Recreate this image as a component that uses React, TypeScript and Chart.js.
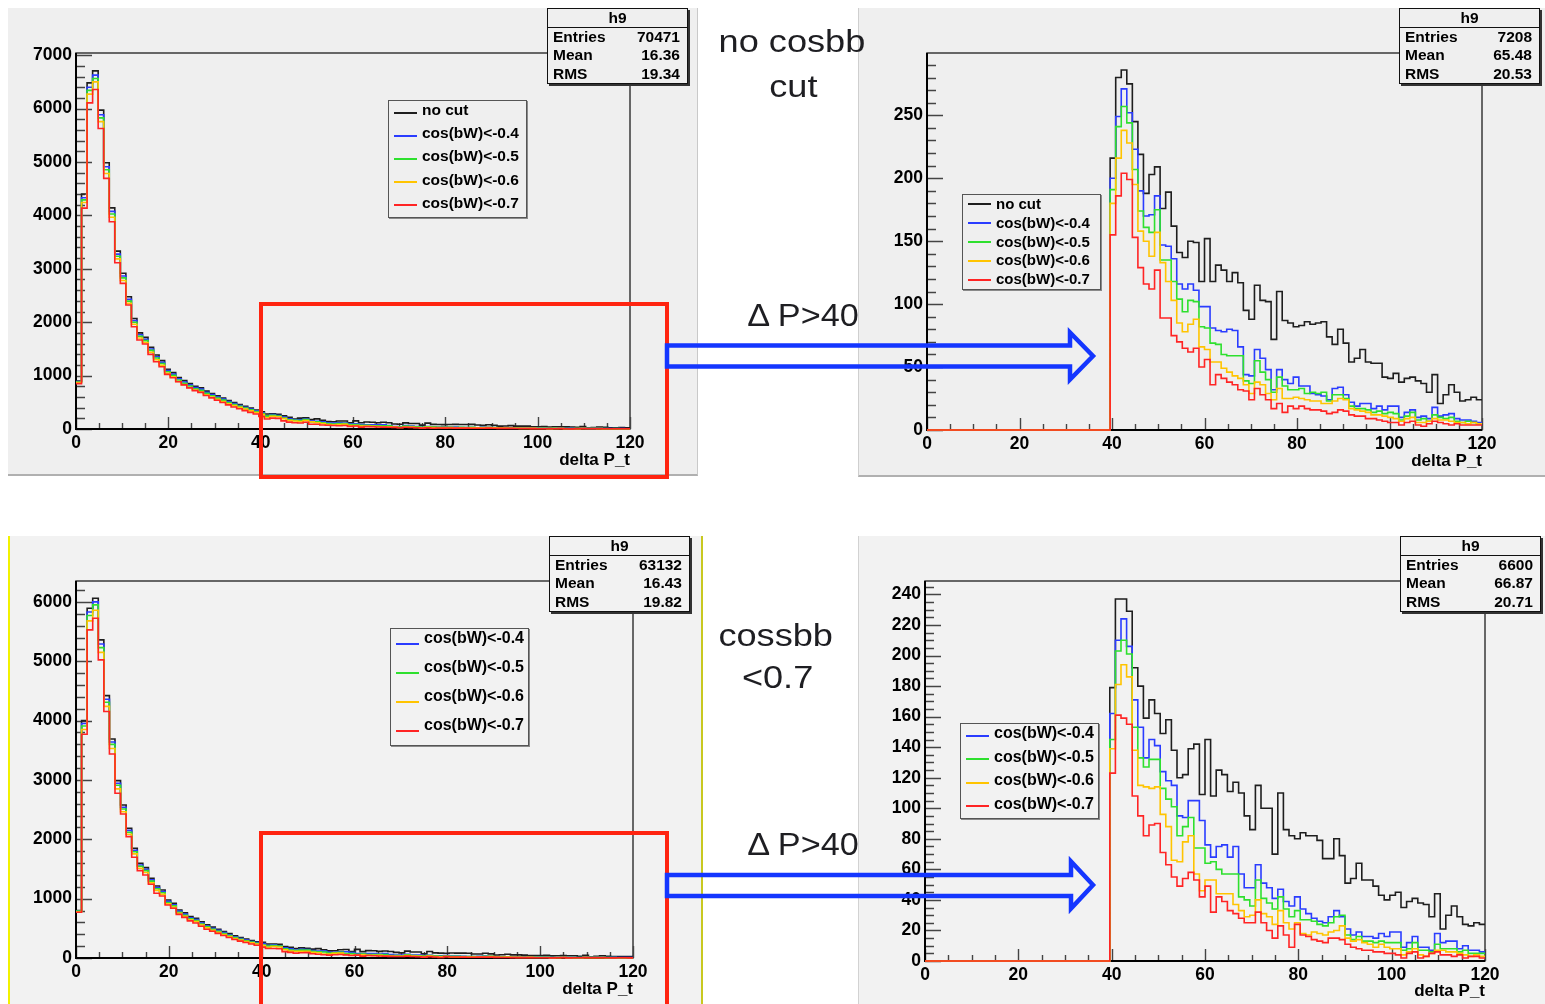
import React, { useEffect, useRef } from 'react';
import { Chart, registerables } from 'chart.js';

Chart.register(...registerables);

const FONT = '"Liberation Sans", Arial, Helvetica, sans-serif';

// ---- histogram definition (ROOT TH1: 100 bins on [0,120]) ----
const X_MIN = 0;
const X_MAX = 120;
const N_BINS = 100;
const BIN_WIDTH = (X_MAX - X_MIN) / N_BINS;
const CUT_FIRST_BIN = 33; // first bin touched by the ΔP>40 cut: [39.6, 40.8]

const SERIES_NAMES = ['no cut', 'cos(bW)<-0.4', 'cos(bW)<-0.5', 'cos(bW)<-0.6', 'cos(bW)<-0.7'];
const SERIES_COLORS = ['#1e1e1e', '#2a3cff', '#2ee02e', '#ffc400', '#ff2424'];

const X_TICKS = [0, 20, 40, 60, 80, 100, 120];
const Y_TICKS_TOP_FULL = [0, 1000, 2000, 3000, 4000, 5000, 6000, 7000];
const Y_TICKS_TOP_CUT = [0, 50, 100, 150, 200, 250];
const Y_TICKS_BOT_FULL = [0, 1000, 2000, 3000, 4000, 5000, 6000];
const Y_TICKS_BOT_CUT = [0, 20, 40, 60, 80, 100, 120, 140, 160, 180, 200, 220, 240];

const X_TITLE = 'delta P_t';
const STAT_TITLE = 'h9';
const STAT_LABELS = ['Entries', 'Mean', 'RMS'];
const STATS_TOP_FULL = ['70471', '16.36', '19.34'];
const STATS_TOP_CUT = ['7208', '65.48', '20.53'];
const STATS_BOT_FULL = ['63132', '16.43', '19.82'];
const STATS_BOT_CUT = ['6600', '66.87', '20.71'];

// ---- "no cosbb cut": bins 0..33 (full range view) ----
const TOP_HEAD_NOCUT = [900, 4400, 6480, 6706, 5970, 4985, 4140, 3330, 2915, 2475, 2070, 1800, 1715, 1530, 1385, 1280, 1120, 1055, 965, 905, 850, 800, 770, 710, 665, 620, 580, 535, 495, 460, 425, 390, 355, 320];
const TOP_HEAD_BW04 = [890, 4330, 6400, 6625, 5885, 4910, 4075, 3275, 2865, 2430, 2030, 1765, 1680, 1497, 1354, 1250, 1093, 1028, 940, 880, 826, 776, 746, 687, 643, 598, 559, 515, 476, 441, 407, 373, 339, 302];
const TOP_HEAD_BW05 = [880, 4290, 6340, 6563, 5825, 4855, 4025, 3235, 2830, 2395, 2000, 1738, 1654, 1472, 1330, 1226, 1071, 1006, 918, 858, 805, 755, 725, 667, 623, 579, 540, 497, 459, 425, 392, 358, 325, 288];
const TOP_HEAD_BW06 = [870, 4240, 6270, 6500, 5755, 4785, 3965, 3185, 2780, 2352, 1962, 1703, 1618, 1438, 1298, 1194, 1042, 977, 890, 831, 778, 729, 698, 641, 598, 555, 516, 474, 437, 404, 372, 339, 306, 272];
const TOP_HEAD_BW07 = [850, 4136, 6107, 6357, 5627, 4692, 3880, 3113, 2727, 2321, 1915, 1666, 1591, 1398, 1260, 1166, 1023, 960, 886, 826, 770, 718, 686, 628, 582, 538, 495, 452, 412, 378, 344, 312, 280, 235];

// ---- "no cosbb cut", ΔP>40: bins 33..99 ----
const TOP_TAIL_NOCUT = [216, 280, 286, 275, 245, 219, 188, 203, 209, 176, 189, 162, 141, 137, 150, 149, 118, 152, 118, 131, 127, 118, 125, 117, 95, 88, 115, 103, 102, 72, 110, 87, 85, 82, 83, 86, 84, 85, 86, 74, 68, 80, 69, 54, 57, 64, 54, 53, 53, 42, 41, 45, 38, 41, 42, 39, 37, 30, 44, 21, 28, 36, 30, 23, 24, 26, 24];
const TOP_TAIL_BW04 = [200, 249, 271, 252, 223, 190, 170, 171, 186, 147, 146, 136, 116, 112, 116, 111, 98, 98, 81, 79, 78, 80, 79, 66, 44, 43, 64, 57, 48, 32, 48, 40, 37, 42, 35, 35, 29, 28, 27, 24, 33, 34, 28, 22, 19, 21, 21, 17, 19, 16, 19, 19, 10, 14, 16, 10, 11, 9, 18, 11, 12, 13, 9, 8, 8, 7, 6];
const TOP_TAIL_BW05 = [191, 241, 257, 244, 207, 174, 161, 157, 175, 135, 135, 118, 104, 94, 103, 102, 82, 81, 69, 68, 60, 59, 59, 59, 39, 37, 55, 46, 40, 30, 42, 35, 32, 32, 33, 29, 30, 29, 30, 23, 28, 28, 25, 19, 17, 17, 16, 14, 15, 13, 14, 13, 8, 11, 14, 8, 9, 7, 12, 10, 9, 10, 7, 6, 7, 6, 5];
const TOP_TAIL_BW06 = [180, 216, 238, 228, 195, 158, 150, 138, 157, 133, 118, 103, 85, 78, 84, 88, 66, 64, 54, 54, 49, 46, 43, 41, 36, 29, 38, 36, 29, 24, 33, 25, 25, 26, 25, 24, 23, 23, 21, 21, 23, 25, 24, 17, 16, 15, 14, 12, 12, 11, 10, 9, 7, 9, 10, 6, 6, 7, 9, 8, 8, 7, 6, 6, 5, 6, 5];
const TOP_TAIL_BW07 = [155, 186, 204, 199, 153, 129, 116, 112, 127, 89, 89, 75, 70, 65, 62, 65, 50, 56, 36, 44, 41, 38, 36, 32, 31, 24, 33, 28, 24, 17, 21, 14, 19, 17, 19, 17, 16, 16, 15, 13, 14, 16, 15, 12, 11, 11, 9, 9, 8, 7, 6, 6, 4, 6, 7, 4, 3, 5, 7, 6, 5, 4, 5, 4, 4, 4, 4];

// ---- "cossbb<0.7": bins 0..33 ----
const BOT_HEAD_NOCUT = [800, 4000, 5893, 6062, 5360, 4421, 3691, 2989, 2579, 2186, 1848, 1596, 1523, 1343, 1214, 1146, 978, 921, 810, 760, 700, 670, 610, 560, 520, 485, 445, 410, 375, 345, 320, 295, 275, 265];
const BOT_HEAD_BW04 = [795, 3950, 5830, 6000, 5290, 4360, 3640, 2945, 2540, 2150, 1815, 1568, 1495, 1316, 1189, 1121, 955, 898, 789, 739, 679, 649, 590, 540, 500, 466, 427, 392, 358, 328, 304, 279, 259, 244];
const BOT_HEAD_BW05 = [790, 3910, 5770, 5950, 5230, 4310, 3600, 2910, 2510, 2120, 1790, 1545, 1472, 1295, 1168, 1100, 936, 879, 771, 721, 661, 631, 573, 524, 484, 450, 411, 377, 343, 314, 291, 267, 247, 218];
const BOT_HEAD_BW06 = [780, 3850, 5680, 5860, 5150, 4240, 3530, 2850, 2465, 2085, 1755, 1513, 1440, 1266, 1140, 1073, 912, 856, 752, 703, 643, 613, 556, 507, 468, 434, 396, 362, 329, 301, 278, 255, 235, 208];
const BOT_HEAD_BW07 = [770, 3770, 5528, 5725, 5023, 4152, 3438, 2776, 2427, 2045, 1697, 1472, 1399, 1242, 1090, 1045, 893, 837, 735, 685, 625, 590, 535, 485, 450, 415, 378, 345, 312, 284, 260, 236, 216, 184];

// ---- "cossbb<0.7", ΔP>40: bins 33..99 ----
const BOT_TAIL_NOCUT = [179, 237, 237, 229, 192, 180, 159, 171, 162, 149, 158, 138, 120, 122, 139, 142, 109, 145, 108, 125, 122, 111, 117, 110, 95, 86, 115, 100, 100, 70, 110, 86, 82, 80, 84, 82, 82, 79, 67, 67, 80, 69, 51, 54, 64, 53, 53, 49, 43, 40, 43, 45, 35, 39, 41, 38, 37, 29, 44, 21, 30, 36, 29, 24, 23, 25, 24];
const BOT_TAIL_BW04 = [162, 210, 224, 206, 171, 153, 133, 145, 141, 124, 118, 115, 95, 94, 105, 105, 92, 76, 68, 75, 76, 68, 75, 57, 48, 48, 63, 51, 48, 41, 47, 39, 36, 42, 34, 31, 28, 26, 25, 29, 33, 29, 21, 17, 19, 16, 16, 15, 18, 16, 19, 19, 9, 12, 16, 9, 9, 7, 18, 12, 13, 13, 8, 10, 7, 7, 6];
const BOT_TAIL_BW05 = [145, 203, 210, 201, 153, 133, 127, 132, 132, 113, 106, 101, 82, 88, 94, 74, 74, 64, 65, 60, 57, 57, 57, 42, 40, 36, 53, 41, 38, 34, 42, 34, 29, 33, 27, 27, 26, 24, 23, 25, 29, 30, 17, 14, 16, 13, 13, 12, 13, 12, 12, 12, 7, 8, 12, 7, 7, 6, 11, 8, 8, 8, 6, 7, 5, 5, 5];
const BOT_TAIL_BW06 = [139, 181, 194, 186, 138, 115, 114, 113, 114, 96, 88, 66, 65, 78, 82, 57, 46, 53, 53, 44, 44, 44, 37, 33, 29, 30, 40, 31, 29, 24, 33, 25, 21, 25, 18, 17, 19, 18, 17, 19, 20, 23, 15, 13, 14, 12, 11, 9, 11, 9, 8, 8, 4, 6, 8, 4, 3, 5, 7, 7, 6, 6, 5, 4, 3, 4, 3];
const BOT_TAIL_BW07 = [123, 161, 159, 155, 108, 95, 82, 89, 90, 71, 63, 55, 49, 54, 58, 53, 42, 49, 32, 42, 39, 33, 31, 28, 25, 25, 32, 25, 20, 15, 23, 17, 9, 24, 17, 16, 14, 13, 12, 15, 15, 14, 11, 9, 8, 7, 7, 6, 6, 5, 5, 4, 2, 5, 6, 2, 3, 5, 6, 4, 4, 3, 4, 2, 3, 3, 2];

const TOP_HEADS = [TOP_HEAD_NOCUT, TOP_HEAD_BW04, TOP_HEAD_BW05, TOP_HEAD_BW06, TOP_HEAD_BW07];
const TOP_TAILS = [TOP_TAIL_NOCUT, TOP_TAIL_BW04, TOP_TAIL_BW05, TOP_TAIL_BW06, TOP_TAIL_BW07];
const BOT_HEADS = [BOT_HEAD_NOCUT, BOT_HEAD_BW04, BOT_HEAD_BW05, BOT_HEAD_BW06, BOT_HEAD_BW07];
const BOT_TAILS = [BOT_TAIL_NOCUT, BOT_TAIL_BW04, BOT_TAIL_BW05, BOT_TAIL_BW06, BOT_TAIL_BW07];

// full-range histogram: bins 0..33 from the head, bins 34..99 from the tail
function fullRange(head: number[], tail: number[]): number[] {
  return head.concat(tail.slice(1));
}
// after the ΔP>40 cut: empty bins below the cut, then the tail
function aboveCut(tail: number[]): number[] {
  const empty: number[] = [];
  for (let i = 0; i < CUT_FIRST_BIN; i++) empty.push(0);
  return empty.concat(tail);
}

type Rect = { x: number; y: number; w: number; h: number };
type PanelDef = {
  id: string;
  box: Rect;
  frame: { l: number; t: number; r: number; b: number };
  bg: string;
  borders: React.CSSProperties;
  yMax: number;
  yTicks: number[];
  yMinor: number;
  titleOffset: number;
  hists: number[][];
  legendIdx: number[];
  legend: Rect & { font: number };
  stats: Rect;
  statValues: string[];
};

const PANELS: PanelDef[] = [
  {
    id: 'tl',
    box: { x: 8, y: 8, w: 690, h: 468 },
    frame: { l: 76, t: 53, r: 630, b: 429 },
    bg: '#efefef',
    borders: { borderRight: '1px solid #c9c9c9', borderBottom: '2px solid #b0b0b0' },
    yMax: 7040, yTicks: Y_TICKS_TOP_FULL, yMinor: 200, titleOffset: 16,
    hists: TOP_HEADS.map((h, k) => fullRange(h, TOP_TAILS[k])),
    legendIdx: [0, 1, 2, 3, 4],
    legend: { x: 388, y: 100, w: 139, h: 118, font: 15.5 },
    stats: { x: 547, y: 8, w: 141, h: 76 },
    statValues: STATS_TOP_FULL,
  },
  {
    id: 'tr',
    box: { x: 858, y: 8, w: 687, h: 469 },
    frame: { l: 927, t: 53, r: 1482, b: 430 },
    bg: '#efefef',
    borders: { borderLeft: '1px solid #cfcfcf', borderBottom: '2px solid #b0b0b0' },
    yMax: 299.5, yTicks: Y_TICKS_TOP_CUT, yMinor: 10, titleOffset: 16,
    hists: TOP_TAILS.map((t) => aboveCut(t)),
    legendIdx: [0, 1, 2, 3, 4],
    legend: { x: 962, y: 194, w: 139, h: 96, font: 15 },
    stats: { x: 1399, y: 8, w: 141, h: 76 },
    statValues: STATS_TOP_CUT,
  },
  {
    id: 'bl',
    box: { x: 8, y: 536, w: 695, h: 468 },
    frame: { l: 76, t: 581, r: 633, b: 958 },
    bg: '#f2f2f2',
    borders: { borderLeft: '2px solid #f2f200', borderRight: '2px solid #c8c820' },
    yMax: 6352, yTicks: Y_TICKS_BOT_FULL, yMinor: 200, titleOffset: 15,
    hists: BOT_HEADS.map((h, k) => fullRange(h, BOT_TAILS[k])),
    legendIdx: [1, 2, 3, 4],
    legend: { x: 390, y: 628, w: 139, h: 118, font: 16 },
    stats: { x: 549, y: 536, w: 141, h: 76 },
    statValues: STATS_BOT_FULL,
  },
  {
    id: 'br',
    box: { x: 858, y: 536, w: 687, h: 468 },
    frame: { l: 925, t: 581, r: 1485, b: 961 },
    bg: '#f2f2f2',
    borders: { borderLeft: '1px solid #d2d2d2' },
    yMax: 248.8, yTicks: Y_TICKS_BOT_CUT, yMinor: 5, titleOffset: 13,
    hists: BOT_TAILS.map((t) => aboveCut(t)),
    legendIdx: [1, 2, 3, 4],
    legend: { x: 960, y: 723, w: 139, h: 96, font: 16 },
    stats: { x: 1400, y: 536, w: 141, h: 76 },
    statValues: STATS_BOT_CUT,
  },
];

// ROOT-like frame with inward ticks, drawn from the chart's own scales
const rootFramePlugin = {
  id: 'rootFrame',
  beforeDatasetsDraw(chart: any, _args: any, opts: any) {
    const { ctx, chartArea: a, scales } = chart;
    const xs = scales.x;
    const ys = scales.y;
    ctx.save();
    ctx.strokeStyle = '#3a3a3a';
    ctx.lineWidth = 1.5;
    ctx.strokeRect(a.left, a.top, a.right - a.left, a.bottom - a.top);

    ctx.strokeStyle = '#444';
    ctx.lineWidth = 1.4;
    ctx.beginPath();
    const majorStep = opts.yMajor;
    const nY = Math.floor(ys.max / opts.yMinor + 1e-9);
    const perMajorY = Math.round(majorStep / opts.yMinor);
    for (let k = 0; k <= nY; k++) {
      const v = k * opts.yMinor;
      const y = Math.round(ys.getPixelForValue(v)) + 0.5;
      const len = k % perMajorY === 0 ? 16 : 9;
      ctx.moveTo(a.left, y);
      ctx.lineTo(a.left + len, y);
    }
    const nX = Math.round((X_MAX - X_MIN) / 5);
    for (let k = 0; k <= nX; k++) {
      const v = X_MIN + k * 5;
      const x = Math.round(xs.getPixelForValue(v)) + 0.5;
      const len = k % 4 === 0 ? 12 : 6;
      ctx.moveTo(x, a.bottom);
      ctx.lineTo(x, a.bottom - len);
    }
    ctx.stroke();

    ctx.strokeStyle = '#000';
    ctx.lineWidth = 2;
    ctx.beginPath();
    ctx.moveTo(a.left, a.top);
    ctx.lineTo(a.left, a.bottom);
    ctx.lineTo(a.right, a.bottom);
    ctx.stroke();
    ctx.restore();
  },
};

function HistCanvas({ p }: { p: PanelDef }) {
  const ref = useRef<HTMLCanvasElement>(null);
  useEffect(() => {
    const canvas = ref.current;
    if (!canvas) return;
    const padTop = p.frame.t - p.box.y;
    const yW = p.frame.l - p.box.x;
    const padRight = p.box.x + p.box.w - p.frame.r;
    const xH = p.box.y + p.box.h - p.frame.b;
    const tickFont = { family: FONT, size: 17.5, weight: 'bold' as const };
    const titleFont = { family: FONT, size: 17, weight: 'bold' as const, lineHeight: 1.2 };
    const datasets = p.hists.map((h, k) => {
      const pts = h.map((v, i) => ({ x: X_MIN + i * BIN_WIDTH, y: v }));
      pts.push({ x: X_MAX, y: h[h.length - 1] });
      return {
        label: SERIES_NAMES[k],
        data: pts,
        borderColor: SERIES_COLORS[k],
        backgroundColor: SERIES_COLORS[k],
        borderWidth: 1.6,
        pointRadius: 0,
        stepped: true,
        fill: false,
        clip: false as any,
        order: SERIES_NAMES.length - 1 - k,
      };
    });
    const chart = new Chart(canvas, {
      type: 'line',
      data: { datasets },
      options: {
        animation: false,
        responsive: false,
        maintainAspectRatio: false,
        events: [],
        layout: { padding: { top: padTop, right: padRight, left: 0, bottom: 0 } },
        plugins: {
          legend: { display: false },
          tooltip: { enabled: false },
          title: { display: false },
          rootFrame: { yMajor: p.yTicks[1] - p.yTicks[0], yMinor: p.yMinor },
        } as any,
        scales: {
          x: {
            type: 'linear',
            min: X_MIN,
            max: X_MAX,
            afterBuildTicks: (s: any) => {
              s.ticks = X_TICKS.map((v) => ({ value: v }));
            },
            ticks: {
              autoSkip: false,
              maxRotation: 0,
              minRotation: 0,
              padding: 4,
              color: '#000',
              font: tickFont,
              callback: (v: any) => String(v),
            },
            grid: { display: false, drawTicks: false },
            border: { display: false },
            title: {
              display: true,
              text: X_TITLE,
              align: 'end',
              color: '#000',
              font: titleFont,
              padding: { top: 0, bottom: p.titleOffset - 10.2 },
            },
            afterFit: (s: any) => {
              s.height = xH;
            },
          },
          y: {
            type: 'linear',
            min: 0,
            max: p.yMax,
            afterBuildTicks: (s: any) => {
              s.ticks = p.yTicks.map((v) => ({ value: v }));
            },
            ticks: {
              autoSkip: false,
              padding: 4,
              color: '#000',
              font: tickFont,
              callback: (v: any) => String(v),
            },
            grid: { display: false, drawTicks: false },
            border: { display: false },
            afterFit: (s: any) => {
              s.width = yW;
            },
          },
        } as any,
      },
      plugins: [rootFramePlugin as any],
    });
    return () => chart.destroy();
  }, [p]);
  return (
    <canvas
      ref={ref}
      width={p.box.w}
      height={p.box.h}
      style={{ position: 'absolute', left: p.box.x, top: p.box.y, width: p.box.w, height: p.box.h }}
    />
  );
}

function StatBox({ p }: { p: PanelDef }) {
  const s = p.stats;
  const rowH = (s.h - 2 - 19) / 3;
  return (
    <div
      style={{
        position: 'absolute', left: s.x, top: s.y, width: s.w, height: s.h, boxSizing: 'border-box',
        border: '1px solid #111', boxShadow: '2px 2px 0 #333', background: p.bg,
        font: `bold 15.5px ${FONT}`, color: '#000',
      }}
    >
      <div style={{ height: 18, lineHeight: '18px', textAlign: 'center', borderBottom: '1px solid #111' }}>{STAT_TITLE}</div>
      {STAT_LABELS.map((lab, i) => (
        <div
          key={lab}
          style={{ display: 'flex', justifyContent: 'space-between', height: rowH, lineHeight: `${rowH}px`, padding: '0 7px 0 5px' }}
        >
          <span>{lab}</span>
          <span>{p.statValues[i]}</span>
        </div>
      ))}
    </div>
  );
}

function LegendBox({ p }: { p: PanelDef }) {
  const l = p.legend;
  const rowH = (l.h - 2) / p.legendIdx.length;
  return (
    <div
      style={{
        position: 'absolute', left: l.x, top: l.y, width: l.w, height: l.h, boxSizing: 'border-box',
        border: '1px solid #555', boxShadow: '1px 1px 0 #8a8a8a', background: p.bg,
      }}
    >
      {p.legendIdx.map((k, i) => (
        <div key={k} style={{ position: 'absolute', left: 0, top: i * rowH, height: rowH, width: '100%' }}>
          <div style={{ position: 'absolute', left: 5, top: rowH / 2 - 1, width: 23, height: 2, background: SERIES_COLORS[k] }} />
          <div
            style={{
              position: 'absolute', left: 33, top: 0, lineHeight: `${rowH}px`, whiteSpace: 'nowrap',
              font: `bold ${l.font}px ${FONT}`, color: '#000',
            }}
          >
            {SERIES_NAMES[k]}
          </div>
        </div>
      ))}
    </div>
  );
}

const NOTES = [
  { text: 'no cosbb', cx: 792, baseline: 52, sx: 1.13 },
  { text: 'cut', cx: 793, baseline: 97, sx: 1.13 },
  { text: 'Δ P>40', cx: 803, baseline: 326, sx: 1.07 },
  { text: 'cossbb', cx: 776, baseline: 646, sx: 1.13 },
  { text: '<0.7', cx: 778, baseline: 688, sx: 1.13 },
  { text: 'Δ P>40', cx: 803, baseline: 855, sx: 1.07 },
];

function Notes() {
  return (
    <>
      {NOTES.map((n, i) => (
        <div
          key={i}
          style={{
            position: 'absolute', left: n.cx - 150, width: 300, top: n.baseline - 29, textAlign: 'center',
            fontFamily: FONT, fontSize: 32, lineHeight: '36px', color: '#1e1e22', whiteSpace: 'nowrap',
          }}
        >
          <span style={{ display: 'inline-block', transform: `scaleX(${n.sx})` }}>{n.text}</span>
        </div>
      ))}
      <div style={{ position: 'absolute', left: 259, top: 302, width: 410, height: 177, boxSizing: 'border-box', border: '4px solid #ff2410' }} />
      <div style={{ position: 'absolute', left: 259, top: 831, width: 410, height: 200, boxSizing: 'border-box', border: '4px solid #ff2410' }} />
      <svg width={1545} height={1004} style={{ position: 'absolute', left: 0, top: 0, pointerEvents: 'none' }}>
        <path d="M667 345.5 H1070 V332.5 L1093 356 L1070 379.5 V366.5 H667 Z" fill="none" stroke="#1436ff" strokeWidth={4.5} strokeLinejoin="miter" />
        <path d="M667 875 H1071 V861.5 L1093 885 L1071 908.5 V896 H667 Z" fill="none" stroke="#1436ff" strokeWidth={4.5} strokeLinejoin="miter" />
      </svg>
    </>
  );
}

export default function App() {
  return (
    <div style={{ position: 'absolute', left: 0, top: 0, width: 1545, height: 1004, overflow: 'hidden', background: '#fff' }}>
      {PANELS.map((p) => (
        <div
          key={`bg-${p.id}`}
          style={{ position: 'absolute', left: p.box.x, top: p.box.y, width: p.box.w, height: p.box.h, boxSizing: 'border-box', background: p.bg, ...p.borders }}
        />
      ))}
      {PANELS.map((p) => (
        <HistCanvas key={`c-${p.id}`} p={p} />
      ))}
      {PANELS.map((p) => (
        <StatBox key={`s-${p.id}`} p={p} />
      ))}
      {PANELS.map((p) => (
        <LegendBox key={`l-${p.id}`} p={p} />
      ))}
      <Notes />
    </div>
  );
}
